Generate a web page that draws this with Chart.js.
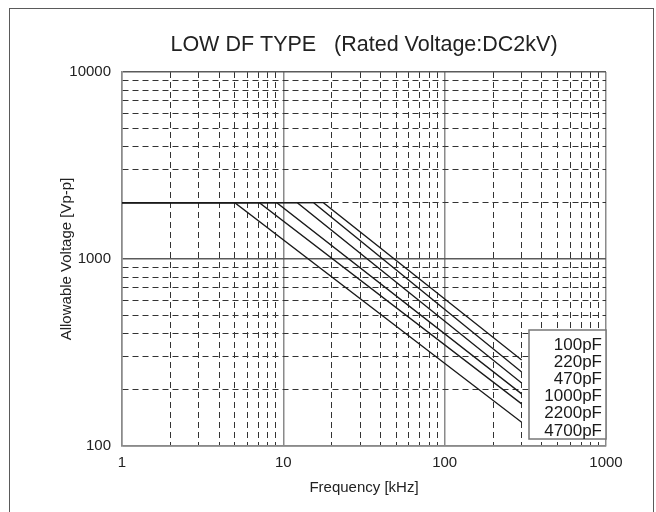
<!DOCTYPE html>
<html>
<head>
<meta charset="utf-8">
<script src="https://cdn.jsdelivr.net/npm/chart.js@4"></script>
<style>
    body { margin: 0; background: #fff; }
    #wrap { position: relative; width: 656px; height: 512px; overflow: hidden; }
    #frame { position: absolute; left: 9px; top: 7.5px; width: 645px; height: 530px; border: 1.5px solid #5a5a5a; box-sizing: border-box; }
    #chart { position: absolute; left: 0; top: 0; }
</style>
</head>
<body>
<div id="wrap">
    <div id="frame"></div>
    <canvas id="chart" width="656" height="512"></canvas>
</div>
<script>
// Capacitance values, top to bottom as in the legend
const capacitances = ['100pF', '220pF', '470pF', '1000pF', '2200pF', '4700pF'];

// Each curve: flat at the rated level, then falls off to the end frequency
const startFreq = 1;      // kHz
const endFreq = 300;      // kHz
const flatVoltage = 2000; // Vp-p
const kneeFreqs = [17.7, 15.4, 12.2, 9.1, 7.1, 5.0];   // kHz, where the curve leaves 2000 V
const endVoltages = [288, 249, 217, 190, 168, 134];    // Vp-p at 300 kHz

// Grid positions (log axes)
const xTicks = [1, 2, 3, 4, 5, 6, 7, 8, 9, 10, 20, 30, 40, 50, 60, 70, 80, 90, 100,
    200, 300, 400, 500, 600, 700, 800, 900, 1000];
const yTicks = [100, 200, 300, 400, 500, 600, 700, 800, 900, 1000, 2000, 3000, 4000, 5000,
    6000, 7000, 8000, 9000, 10000];

const FONT = '"Liberation Sans", Arial, sans-serif';
Chart.defaults.font.family = FONT;
Chart.defaults.color = '#222';

function isDecade(v) {
    const l = Math.log10(v);
    return Math.abs(l - Math.round(l)) < 1e-9;
}

const datasets = capacitances.map((label, i) => ({
    label: label,
    data: [
        { x: startFreq, y: flatVoltage },
        { x: kneeFreqs[i], y: flatVoltage },
        { x: endFreq, y: endVoltages[i] }
    ],
    borderColor: '#1a1a1a',
    borderWidth: 1.3,
    pointRadius: 0,
    tension: 0,
    fill: false
}));

// Title centred over the plot area
const titlePlugin = {
    id: 'plotTitle',
    afterDraw(chart) {
        const { ctx, chartArea } = chart;
        ctx.save();
        ctx.font = '21.5px ' + FONT;
        ctx.fillStyle = '#222';
        ctx.textAlign = 'center';
        ctx.textBaseline = 'middle';
        ctx.fillText('LOW DF TYPE   (Rated Voltage:DC2kV)', (chartArea.left + chartArea.right) / 2, 45);
        ctx.restore();
    }
};

// Boxed legend in the lower right corner, text only
const legendBox = {
    id: 'legendBox',
    afterDatasetsDraw(chart) {
        const { ctx, chartArea } = chart;
        const w = 77, h = 109;
        const right = chartArea.right;
        const top = chartArea.bottom - 7 - h;
        ctx.save();
        ctx.fillStyle = '#fff';
        ctx.fillRect(right - w, top, w, h);
        ctx.strokeStyle = '#777';
        ctx.lineWidth = 1.5;
        ctx.strokeRect(right - w, top, w, h);
        ctx.font = '17px ' + FONT;
        ctx.fillStyle = '#1a1a1a';
        ctx.textAlign = 'right';
        ctx.textBaseline = 'middle';
        chart.data.datasets.forEach((ds, i) => {
            ctx.fillText(ds.label, right - 4, top + 15 + i * 17.2);
        });
        ctx.restore();
    }
};

const minorDash = c => (c.tick && !isDecade(c.tick.value)) ? [6, 4] : [];

new Chart(document.getElementById('chart'), {
    type: 'line',
    data: { datasets: datasets },
    options: {
        responsive: false,
        animation: false,
        layout: { padding: { top: 72, right: 50, left: 0, bottom: 0 } },
        plugins: {
            legend: { display: false },
            title: { display: false },
            tooltip: { enabled: false }
        },
        scales: {
            x: {
                type: 'logarithmic',
                min: 1,
                max: 1000,
                afterBuildTicks: s => { s.ticks = xTicks.map(v => ({ value: v, major: isDecade(v) })); },
                afterFit: s => { s.height = 66; },
                ticks: {
                    autoSkip: false,
                    maxRotation: 0,
                    padding: 8,
                    font: { size: 15 },
                    color: '#222',
                    callback: v => isDecade(v) ? String(v) : ''
                },
                grid: {
                    drawTicks: false,
                    color: c => (c.tick && isDecade(c.tick.value)) ? '#8a8a8a' : '#333',
                    lineWidth: c => (c.tick && isDecade(c.tick.value)) ? 1.5 : 1
                },
                border: { color: '#8a8a8a', width: 1.5, dash: minorDash },
                title: {
                    display: true,
                    text: 'Frequency [kHz]',
                    font: { size: 15 },
                    color: '#222',
                    padding: { top: 0, bottom: 15 }
                }
            },
            y: {
                type: 'logarithmic',
                min: 100,
                max: 10000,
                afterBuildTicks: s => { s.ticks = yTicks.map(v => ({ value: v, major: isDecade(v) })); },
                afterFit: s => { s.width = 122; },
                ticks: {
                    autoSkip: false,
                    padding: 11,
                    font: { size: 15 },
                    color: '#222',
                    callback: v => isDecade(v) ? String(v) : ''
                },
                grid: {
                    drawTicks: false,
                    color: c => (c.tick && isDecade(c.tick.value)) ? '#5a5a5a' : '#333',
                    lineWidth: c => (c.tick && isDecade(c.tick.value)) ? 1.5 : 1
                },
                border: { color: '#8a8a8a', width: 1.5, dash: minorDash },
                title: {
                    display: true,
                    text: 'Allowable Voltage [Vp-p]',
                    font: { size: 15 },
                    color: '#222',
                    padding: { top: 58, bottom: 0 }
                }
            }
        }
    },
    plugins: [titlePlugin, legendBox]
});
</script>
</body>
</html>
